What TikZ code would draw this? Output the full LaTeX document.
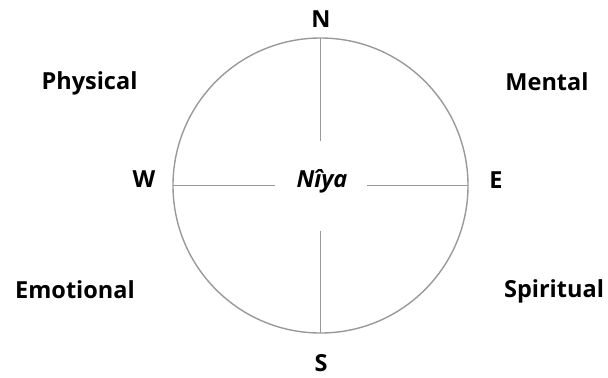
\documentclass[tikz,border=0pt]{standalone}
\usepackage{fontspec}
\setmainfont{Open Sans}
\begin{document}
\begin{tikzpicture}[x=1bp, y=-1bp,
    linea/.style={line width=1.4bp, color=black!40},
    punto/.style={font=\fontsize{23.5bp}{28bp}\selectfont\bfseries, anchor=base, inner sep=0pt},
    centro/.style={font=\fontsize{23.5bp}{28bp}\selectfont\bfseries\itshape, anchor=base, inner sep=0pt}]

        \useasboundingbox (0,0) rectangle (608,377);

        % Cerchio della ruota
        \coordinate (O) at (320.5,185.5);
        \draw[linea] (O) circle (147.5);

        % Estremi dei raggi
        \coordinate (Nc) at (320.5,38);
        \coordinate (Sc) at (320.5,333);
        \coordinate (Wc) at (173,185.5);
        \coordinate (Ec) at (468,185.5);
        \coordinate (Ni) at (320.5,140.5);
        \coordinate (Si) at (320.5,231);
        \coordinate (Wi) at (275,185.5);
        \coordinate (Ei) at (367,185.5);

        % Raggi (in grigio)
        \draw[linea] (Nc) -- (Ni);
        \draw[linea] (Sc) -- (Si);
        \draw[linea] (Wc) -- (Wi);
        \draw[linea] (Ec) -- (Ei);

        % Punti cardinali
        \node[punto] (nord) at (321,27) {N};
        \node[punto] (sud) at (321,371) {S};
        \node[punto] (ovest) at (144,187) {W};
        \node[punto] (est) at (496,188) {E};
        \node[centro] (niya) at (322,187) {Nîya};

        % Aspetti
        \node[punto] (fisico) at (89.5,89) {Physical};
        \node[punto] (mentale) at (547,90) {Mental};
        \node[punto] (emotivo) at (75,298) {Emotional};
        \node[punto] (spirituale) at (554,297) {Spiritual};

    \end{tikzpicture}
\end{document}
